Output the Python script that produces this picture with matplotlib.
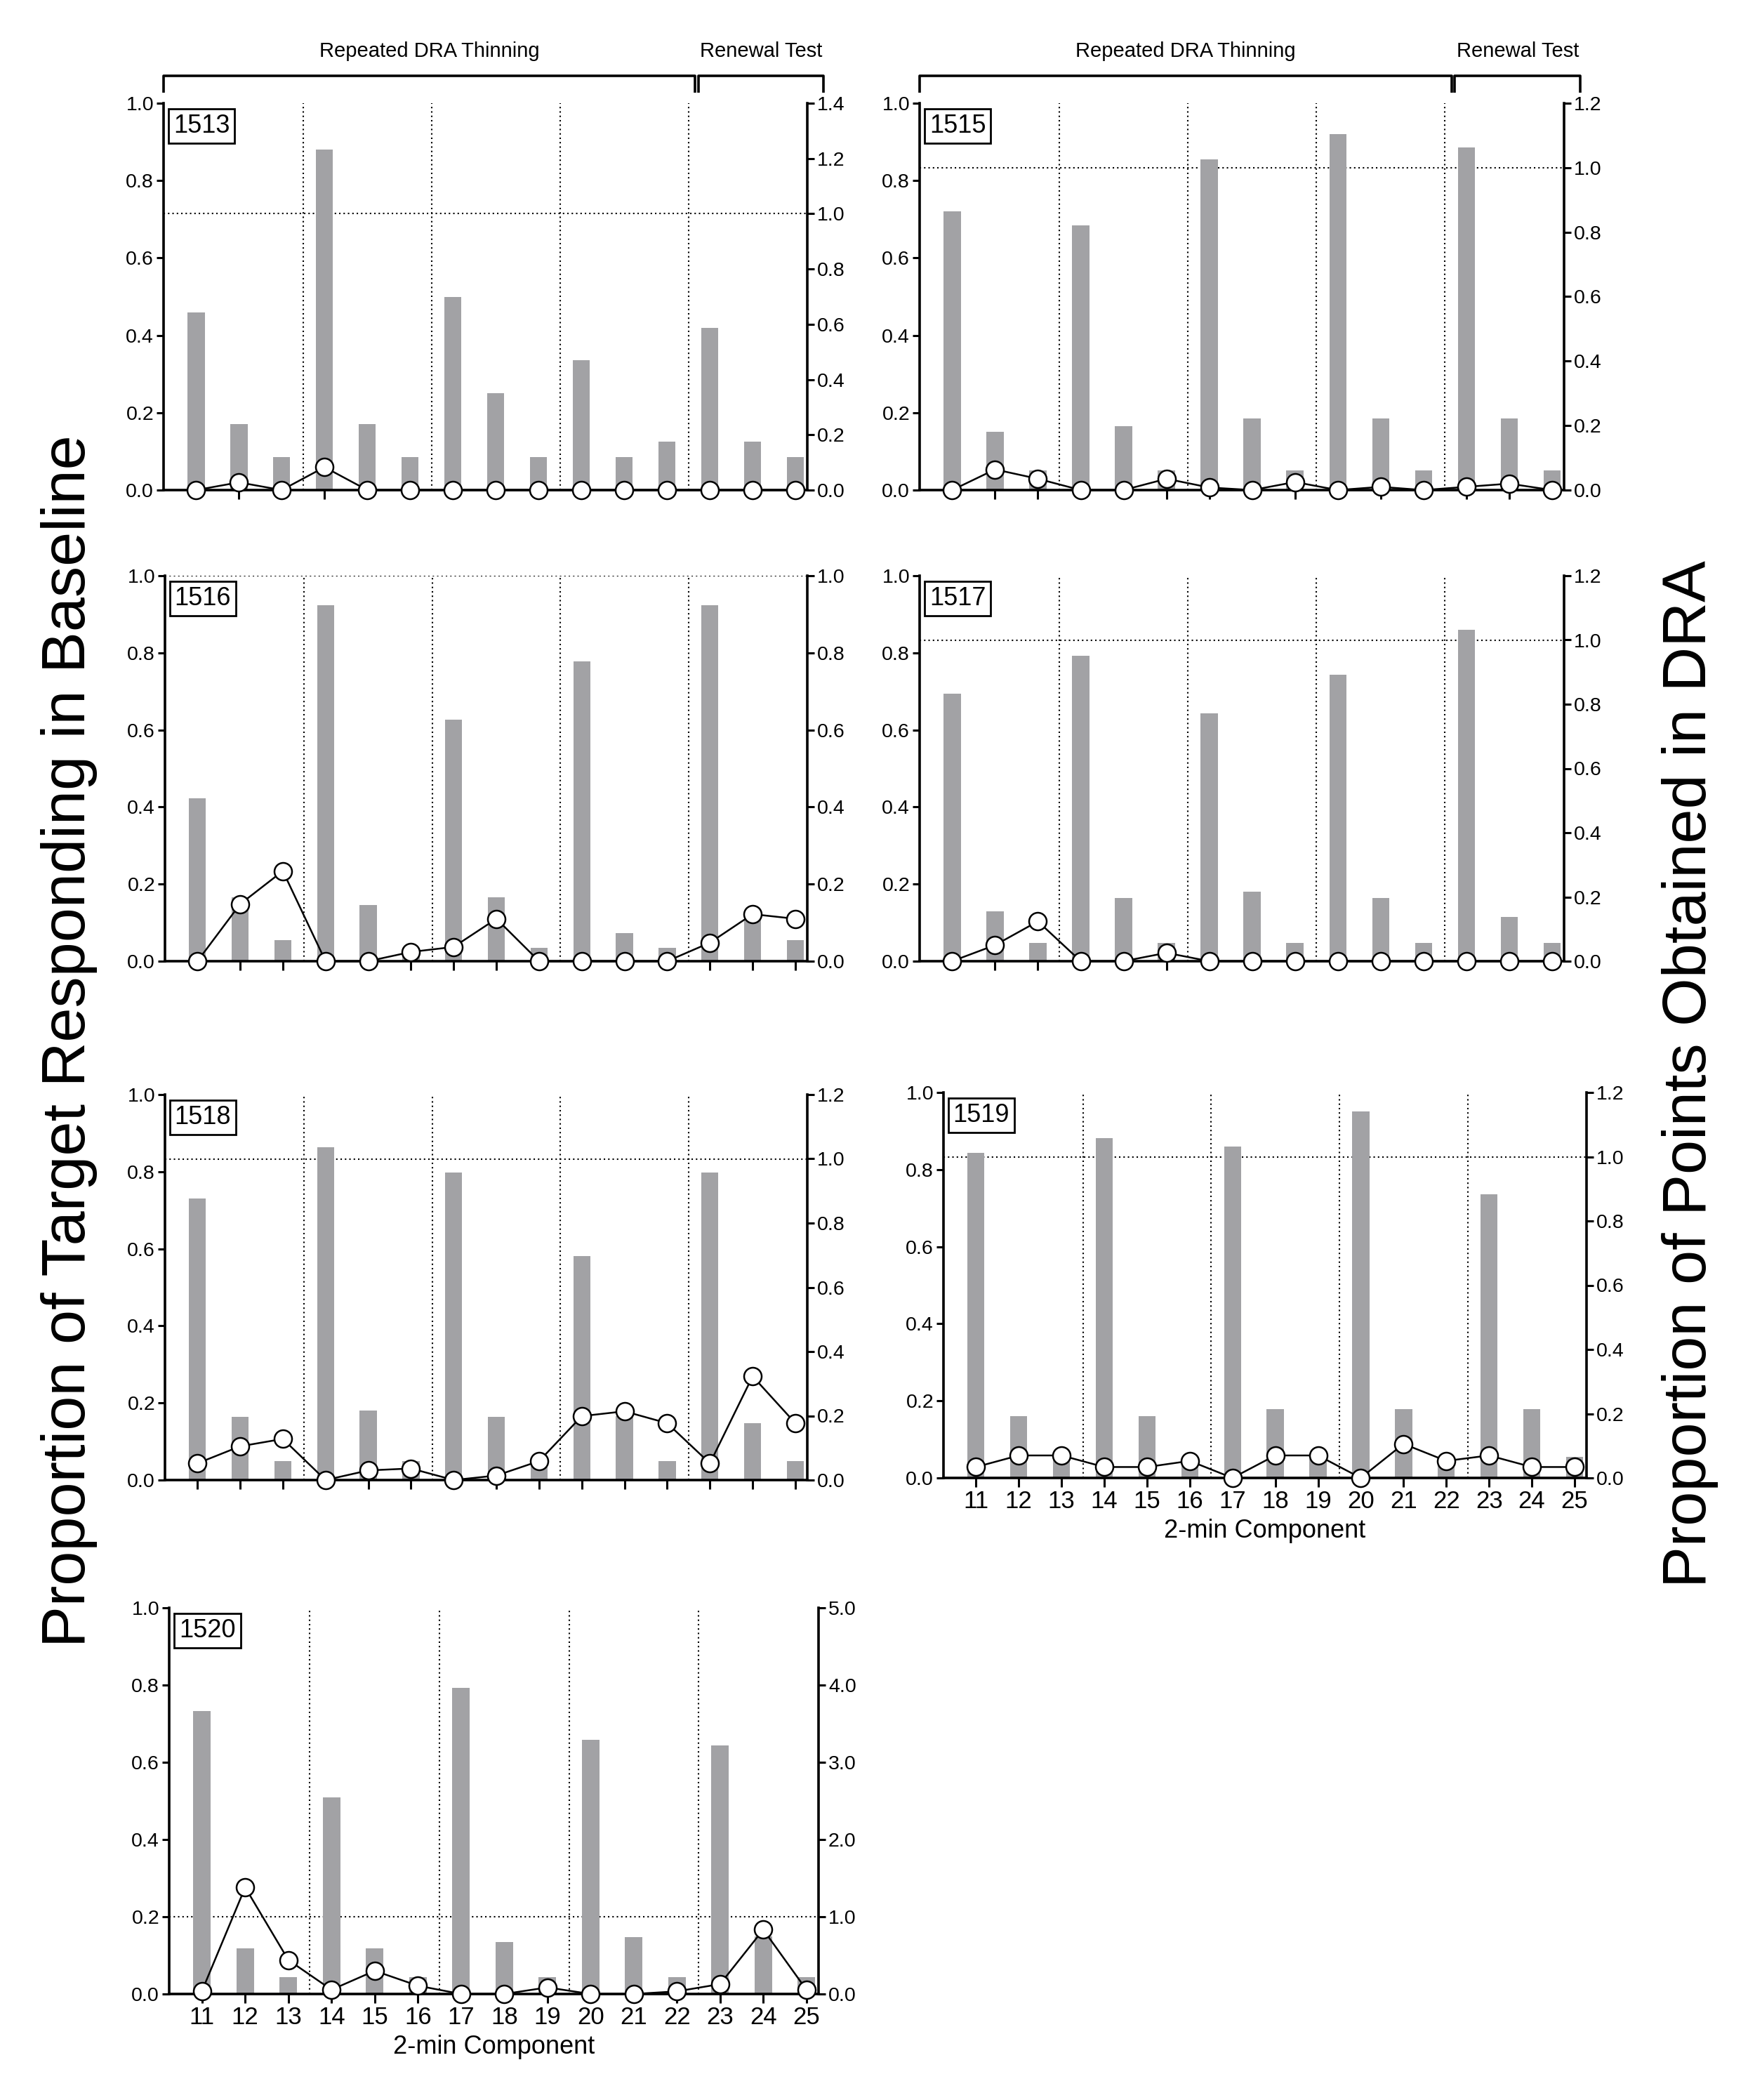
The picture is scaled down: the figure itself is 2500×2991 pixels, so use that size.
import numpy as np
import matplotlib.pyplot as plt
from matplotlib.ticker import MultipleLocator, FormatStrFormatter

plt.rcParams['font.family'] = ['Liberation Sans', 'DejaVu Sans']

# 2-min components
components = np.arange(11, 26)

# proportion of target responding in baseline (grey bars, left axis)
target_1513 = [0.46, 0.17, 0.085, 0.88, 0.17, 0.085, 0.50, 0.25, 0.085, 0.335, 0.085, 0.125, 0.42, 0.125, 0.085]
target_1515 = [0.72, 0.15, 0.05, 0.685, 0.165, 0.05, 0.855, 0.185, 0.05, 0.92, 0.185, 0.05, 0.885, 0.185, 0.05]
target_1516 = [0.423, 0.165, 0.054, 0.924, 0.146, 0.035, 0.627, 0.166, 0.035, 0.777, 0.072, 0.035, 0.924, 0.125, 0.054]
target_1517 = [0.694, 0.13, 0.047, 0.793, 0.164, 0.047, 0.643, 0.18, 0.047, 0.744, 0.164, 0.047, 0.859, 0.114, 0.047]
target_1518 = [0.731, 0.164, 0.049, 0.863, 0.181, 0.049, 0.798, 0.164, 0.049, 0.581, 0.165, 0.049, 0.798, 0.148, 0.049]
target_1519 = [0.844, 0.161, 0.05, 0.881, 0.161, 0.05, 0.86, 0.179, 0.05, 0.951, 0.179, 0.05, 0.736, 0.179, 0.054]
target_1520 = [0.733, 0.119, 0.044, 0.509, 0.119, 0.044, 0.793, 0.134, 0.044, 0.659, 0.148, 0.044, 0.643, 0.15, 0.044]

# proportion of points obtained in DRA (open circles, right axis)
points_1513 = [0, 0.028, 0, 0.083, 0, 0, 0, 0, 0, 0, 0, 0, 0, 0, 0]
points_1515 = [0, 0.064, 0.035, 0, 0, 0.035, 0.008, 0, 0.025, 0, 0.01, 0, 0.01, 0.02, 0]
points_1516 = [0, 0.148, 0.234, 0, 0, 0.024, 0.037, 0.11, 0, 0, 0, 0, 0.048, 0.122, 0.11]
points_1517 = [0, 0.05, 0.124, 0, 0, 0.026, 0, 0, 0, 0, 0, 0, 0, 0, 0]
points_1518 = [0.052, 0.105, 0.128, 0, 0.03, 0.036, 0, 0.014, 0.059, 0.199, 0.214, 0.177, 0.052, 0.323, 0.177]
points_1519 = [0.034, 0.07, 0.07, 0.034, 0.034, 0.053, 0, 0.07, 0.07, 0, 0.106, 0.053, 0.07, 0.034, 0.034]
points_1520 = [0.04, 1.38, 0.44, 0.055, 0.3, 0.107, 0, 0, 0.085, 0, 0, 0.034, 0.128, 0.833, 0.055]

fig = plt.figure(figsize=(25, 29.91), dpi=100)
W, H = 2500, 2991
dots = (0, (1, 2))


def panel(name, bars, pts, rmax, rstep, box, top_bracket=False, xlabels=False):
    left, right, top, bottom = box
    ax = fig.add_axes([left / W, 1 - bottom / H, (right - left) / W, (bottom - top) / H])
    ax2 = ax.twinx()

    # group separators and the 1.0 reference line (right axis)
    for b in [13.5, 16.5, 19.5, 22.5]:
        ax.axvline(b, color='black', lw=1.5, ls=dots, zorder=0)
    ax.axhline(1.0 / rmax, color='black', lw=1.5, ls=dots, zorder=0)

    ax.bar(components, bars, width=0.4, color='#a2a2a5', zorder=2)
    ax2.plot(components, pts, color='black', lw=1.8, marker='o', markersize=18,
             markerfacecolor='white', markeredgecolor='black', markeredgewidth=1.8,
             clip_on=False, zorder=5)

    ax.set_xlim(10.24, 25.28)
    ax.set_ylim(0, 1.0)
    ax2.set_ylim(0, rmax)
    ax.yaxis.set_major_locator(MultipleLocator(0.2))
    ax2.yaxis.set_major_locator(MultipleLocator(rstep))
    ax.yaxis.set_major_formatter(FormatStrFormatter('%.1f'))
    ax2.yaxis.set_major_formatter(FormatStrFormatter('%.1f'))
    ax.set_xticks(components)

    for a in (ax, ax2):
        a.spines['top'].set_visible(False)
        for s in ('left', 'right', 'bottom'):
            a.spines[s].set_linewidth(2.6)
        a.tick_params(axis='both', length=7, width=2.2, labelsize=20.5, pad=3)
    ax.tick_params(axis='x', length=9)
    ax.spines['right'].set_visible(False)
    ax2.spines['left'].set_visible(False)
    ax2.spines['bottom'].set_visible(False)

    if xlabels:
        ax.set_xticklabels([str(c) for c in components], fontsize=25)
        ax.set_xlabel('2-min Component', fontsize=26, labelpad=6)
    else:
        ax.set_xticklabels([])

    ax.text(0.015, 0.973, name, transform=ax.transAxes, fontsize=26, ha='left', va='top',
            bbox=dict(boxstyle='square,pad=0.2', fc='white', ec='black', lw=2), zorder=6)

    if top_bracket:
        tr = ax.get_xaxis_transform()
        x0, x1 = ax.get_xlim()
        xr = x1 + 0.38
        yl, yt = 1.071, 1.027
        kw = dict(color='black', lw=2.6, transform=tr, clip_on=False, solid_capstyle='butt')
        ax.plot([x0, x0, 22.66, 22.66], [yt, yl, yl, yt], **kw)
        ax.plot([22.73, 22.73, xr, xr], [yt, yl, yl, yt], **kw)
        ax.text((x0 + 22.66) / 2, 1.134, 'Repeated DRA Thinning', transform=tr,
                fontsize=21, ha='center', va='center')
        ax.text((22.73 + xr) / 2, 1.134, 'Renewal Test', transform=tr,
                fontsize=21, ha='center', va='center')
    return ax


panel('1513', target_1513, points_1513, 1.4, 0.2, (233, 1150, 147, 698), top_bracket=True)
panel('1515', target_1515, points_1515, 1.2, 0.2, (1310, 2228, 147, 698), top_bracket=True)
panel('1516', target_1516, points_1516, 1.0, 0.2, (235, 1150, 820, 1369))
panel('1517', target_1517, points_1517, 1.2, 0.2, (1310, 2228, 820, 1369))
panel('1518', target_1518, points_1518, 1.2, 0.2, (235, 1150, 1559, 2108))
panel('1519', target_1519, points_1519, 1.2, 0.2, (1344, 2260, 1556, 2105), xlabels=True)
panel('1520', target_1520, points_1520, 5.0, 1.0, (241, 1166, 2290, 2840), xlabels=True)

fig.text(99 / W, 1 - 1483 / H, 'Proportion of Target Responding in Baseline',
         rotation=90, fontsize=63.5, ha='center', va='center')
fig.text(2407 / W, 1 - 1530 / H, 'Proportion of Points Obtained in DRA',
         rotation=90, fontsize=63.5, ha='center', va='center')

fig.savefig('out.png', dpi=100)
